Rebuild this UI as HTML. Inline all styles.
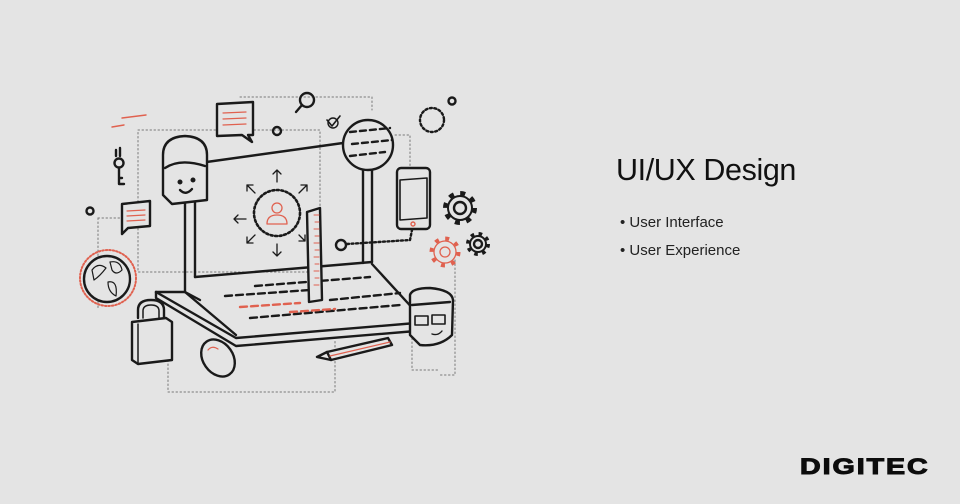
<!DOCTYPE html>
<html><head><meta charset="utf-8"><style>
html,body{margin:0;padding:0;background:#e4e4e4;}
body{width:960px;height:504px;position:relative;overflow:hidden;font-family:"Liberation Sans",sans-serif;}
.t{position:absolute;left:616px;top:153px;font-size:30.5px;color:#111;letter-spacing:-0.4px}
.b{position:absolute;left:620px;font-size:15px;color:#222}
.logo{position:absolute;left:800px;top:454px;font-size:22px;font-weight:900;color:#0c0c0c;letter-spacing:1.5px;transform:scaleX(1.3);transform-origin:left;font-family:"Liberation Sans",sans-serif;-webkit-text-stroke:1px #0c0c0c}
</style></head><body>
<svg width="960" height="504" style="position:absolute;left:0;top:0" fill="none" stroke="#1a1a1a" stroke-width="2.4" stroke-linejoin="round" stroke-linecap="round">
<g stroke="#777" stroke-width="1" stroke-dasharray="1.5 2.5">
<rect x="138" y="130" width="182" height="142"/>
<path d="M240 97 L372 97 L372 110"/>
<path d="M98 218 L98 310"/>
<path d="M98 218 L122 218"/>
<path d="M395 135 L410 135 L410 175"/>
<path d="M168 340 L168 392 L335 392 L335 340"/>
<path d="M412 330 L412 370 L440 370"/>
<path d="M455 260 L455 375 L440 375"/>
</g>
<path d="M185 292 L185 165 L343 143"/>
<path d="M195 277 L195 170"/>
<path d="M195 277 L372 262"/>
<path d="M363 263 L363 165"/>
<path d="M372 262 L372 170"/>
<path d="M156 292 L236 338 L416 323 L416 312 L372 264"/>
<path d="M156 292 L156 298 L236 346 L416 331 L416 323"/>
<path d="M156 292 L185 292 L200 300"/>
<path d="M185 292 L236 335"/>
<g stroke-dasharray="7 4">
<path d="M225 296 L310 290"/><path d="M255 286 L370 277"/>
<path d="M250 318 L400 305"/><path d="M330 300 L400 293"/>
</g>
<g stroke="#e0614f" stroke-dasharray="7 4"><path d="M240 307 L300 303"/><path d="M290 312 L335 309"/></g>
<path d="M163 155 Q163 137 185 136 Q207 137 207 155 L207 200 L172 204 L163 195 Z" fill="#e4e4e4"/>
<path d="M165 168 Q180 158 205 166"/>
<circle cx="180" cy="182" r="1.3" fill="#111"/><circle cx="193" cy="180" r="1.3" fill="#111"/>
<path d="M180 190 Q186 196 192 189"/>
<circle cx="368" cy="145" r="25" fill="#e4e4e4"/>
<g stroke-dasharray="6 4"><path d="M350 132 L390 128"/><path d="M352 144 L392 140"/><path d="M350 156 L385 152"/></g>
<rect x="397" y="168" width="33" height="61" rx="4" fill="#e4e4e4"/>
<path d="M400 180 L427 178 L427 218 L400 220 Z" stroke-width="1.6"/>
<circle cx="413" cy="224" r="2" stroke="#e0614f" stroke-width="1.4"/>
<circle cx="341" cy="245" r="5"/>
<path d="M347 244 L410 240 L412 230" stroke-dasharray="2 2.5" stroke-width="2.4"/>
<circle cx="277" cy="213" r="23" stroke-dasharray="2 2.5" stroke-width="2.6"/>
<g stroke="#e0614f" stroke-width="1.3"><circle cx="277" cy="208" r="5"/><path d="M267 224 Q267 215 277 215 Q287 215 287 224 Z"/></g>
<g stroke-width="1.3">
<path d="M277 182 L277 170 M273 174 L277 170 L281 174"/>
<path d="M277 244 L277 256 M273 252 L277 256 L281 252"/>
<path d="M246 219 L234 219 M238 215 L234 219 L238 223"/>
<path d="M255 193 L247 185 M247 191 L247 185 L253 185"/>
<path d="M299 193 L307 185 M301 185 L307 185 L307 191"/>
<path d="M255 235 L247 243 M247 237 L247 243 L253 243"/>
<path d="M299 235 L305 241 M305 235 L305 241 L299 241"/>
</g>
<path d="M307 212 L320 208 L322 300 L309 302 Z" fill="#e4e4e4"/>
<g stroke="#e0614f" stroke-width="1"><path d="M314 215 L319 215 M315 222 L319 222 M314 229 L319 229 M315 236 L319 236 M314 243 L319 243 M315 250 L319 250 M314 257 L319 257 M315 264 L319 264 M314 271 L319 271 M315 278 L319 278 M314 285 L319 285"/></g>
<path d="M410 295 Q412 288 430 288 Q452 290 453 300 L452 335 Q440 347 420 345 L410 335 Z" fill="#e4e4e4"/>
<path d="M412 305 L450 302"/>
<rect x="415" y="316" width="13" height="9" stroke-width="1.6"/><rect x="432" y="315" width="13" height="9" stroke-width="1.6"/>
<path d="M432 334 Q438 336 442 331" stroke-width="1.4"/>
<path d="M217 104 L253 102 L253 135 L248 135 L252 142 L242 135 L217 136 Z" fill="#e4e4e4"/>
<g stroke="#e0614f" stroke-width="1.2"><path d="M223 113 L246 112 M223 119 L246 118 M223 125 L246 124"/></g>
<path d="M122 204 L150 201 L150 226 L128 228 L122 234 Z" fill="#e4e4e4"/>
<g stroke="#e0614f" stroke-width="1.2"><path d="M127 211 L145 210 M127 216 L145 215 M127 221 L145 220"/></g>
<circle cx="307" cy="100" r="7"/><path d="M302 105 L296 112"/>
<circle cx="333" cy="123" r="5" stroke-width="1.4"/><path d="M327 120 L332 126 L340 116" stroke-width="1.6"/>
<circle cx="277" cy="131" r="4"/><circle cx="90" cy="211" r="3.5"/><circle cx="452" cy="101" r="3.5"/>
<circle cx="432" cy="120" r="12" stroke-dasharray="2 2.5"/>
<g stroke="#e0614f" stroke-width="1.4"><path d="M112 127 L124 125"/><path d="M122 118 L146 115"/></g>
<circle cx="119" cy="163" r="4.5"/><path d="M119 168 L119 184 L124 184 M119 178 L122 178 M116 150 L116 156 M120 148 L120 156"/>
<g>
<circle cx="460" cy="208" r="6"/><circle cx="460" cy="208" r="12" stroke-width="2"/>
<circle cx="460" cy="208" r="14.5" stroke-dasharray="5 6.4" stroke-width="5" stroke-linecap="butt"/>
<circle cx="478" cy="244" r="4"/><circle cx="478" cy="244" r="8" stroke-width="2"/>
<circle cx="478" cy="244" r="10" stroke-dasharray="3.5 4.4" stroke-width="4" stroke-linecap="butt"/>
</g>
<g stroke="#e0614f" stroke-width="1.3"><circle cx="445" cy="252" r="5"/><circle cx="445" cy="252" r="11"/><circle cx="445" cy="252" r="13.5" stroke-dasharray="4 6.6" stroke-width="4" stroke-linecap="butt"/></g>
<circle cx="107" cy="279" r="23" fill="#e4e4e4"/>
<circle cx="108" cy="278" r="28" stroke="#e0614f" stroke-width="2" stroke-dasharray="1.5 2"/>
<path d="M92 270 Q98 262 106 268 Q100 276 94 280 Z M110 262 Q120 260 122 270 Q116 276 112 270 Z M108 282 Q118 280 116 296 Q108 292 108 282 Z" stroke-width="1.2"/>
<path d="M138 318 L138 310 Q138 300 151 300 Q164 300 164 310 L164 318" />
<path d="M143 318 L143 311 Q143 305 151 305 Q159 305 159 311 L159 318" stroke-width="1.5"/>
<path d="M132 322 L166 318 L172 322 L172 360 L138 364 L132 360 Z" fill="#e4e4e4"/>
<path d="M138 324 L138 364" stroke-width="1.5"/>
<ellipse cx="218" cy="358" rx="15" ry="20" transform="rotate(-35 218 358)" fill="#e4e4e4"/>
<path d="M208 350 Q212 345 218 349" stroke="#e0614f" stroke-width="1.2"/>
<path d="M327 352 L388 338 L392 345 L331 360 Z" fill="#e4e4e4"/>
<path d="M327 352 L317 357 L331 360" />
<path d="M330 356 L390 342" stroke="#e0614f" stroke-width="1.2"/>
</svg>
<div class="t">UI/UX Design</div>
<div class="b" style="top:214px">• User Interface</div>
<div class="b" style="top:242px">• User Experience</div>
<div class="logo">DIGITEC</div>
</body></html>
